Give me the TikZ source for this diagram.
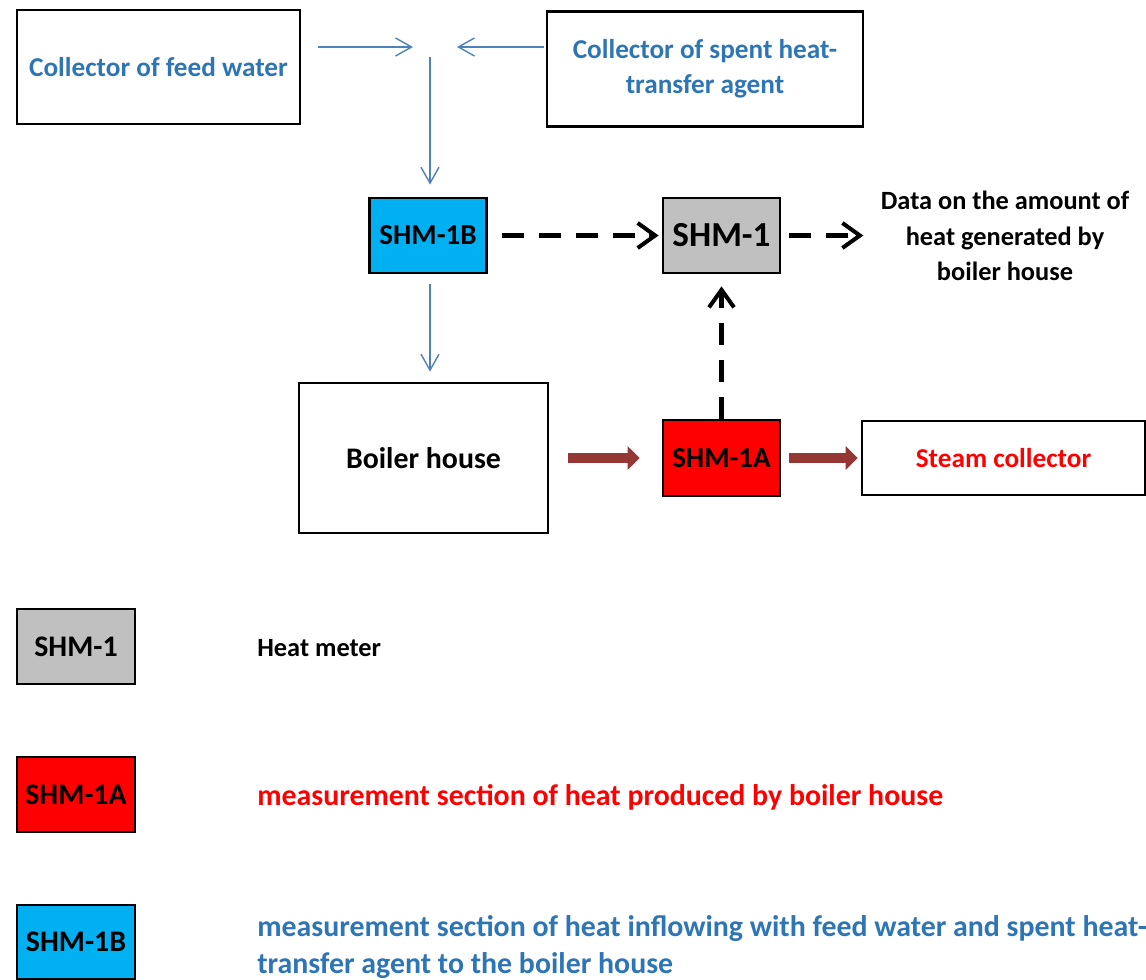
\documentclass[tikz,border=0pt]{standalone}
\usepackage{fontspec}
\setmainfont{Carlito}
\usetikzlibrary{arrows.meta}
\definecolor{pipeblue}{RGB}{79,129,189}
\definecolor{textblue}{RGB}{46,117,182}
\definecolor{steambrown}{RGB}{149,55,53}
\definecolor{meterblue}{RGB}{0,176,240}
\definecolor{metergray}{RGB}{192,192,192}

\begin{document}
\begin{tikzpicture}[x=0.02cm, y=-0.02cm, font=\bfseries\fontsize{15.5}{20}\selectfont,
box/.style={draw, line width=1.6pt, align=center, inner sep=0pt},
meter/.style={box, minimum width=2.34cm, minimum height=1.5cm, font=\bfseries\fontsize{16.5}{20}\selectfont},
water/.style={pipeblue, line width=0.8pt, -{Straight Barb[length=3.2mm, width=3.6mm]}},
signal/.style={line width=2.3pt, dash pattern=on 12.5pt off 8.5pt, -{Straight Barb[length=3.5mm, width=5mm]}},
steam/.style={steambrown, line width=2.1mm, -{Triangle[length=2.4mm, width=4.6mm]}},
keyfont/.style={font=\bfseries\fontsize{17}{21.5}\selectfont},
legend/.style={keyfont, anchor=west, align=left, inner sep=0pt}]

\useasboundingbox (0,0) rectangle (1146,980);

% collectors
\node[box, minimum width=5.66cm, minimum height=2.28cm, text=textblue] (feed) at (158.5,67) {Collector of feed water};
\node[box, minimum width=6.32cm, minimum height=2.3cm, text=textblue] (spent) at (705,69) {Collector of spent heat-\\transfer agent};
\coordinate (join) at (430,47);

% meters and boiler house
\node[meter, fill=meterblue] (shmb) at (428,235.5) {SHM-1B};
\node[meter, fill=metergray, font=\bfseries\fontsize{20}{22}\selectfont] (shm) at (721.5,235.5) {SHM-1};
\node[align=center, font=\bfseries\fontsize{15}{20.4}\selectfont] (data) at (1005,236) {Data on the amount of\\heat generated by\\boiler house};
\node[box, minimum width=4.98cm, minimum height=3cm, font=\bfseries\fontsize{17}{20}\selectfont] (boiler) at (423.5,458) {Boiler house};
\node[meter, fill=red, minimum height=1.52cm] (shma) at (721.5,458) {SHM-1A};
\node[box, minimum width=5.66cm, minimum height=1.48cm, text=red] (steamcol) at (1003.5,458) {Steam collector};

% feed water
\draw[water, shorten <=0.34cm] (feed.east |- join) -- ([xshift=-0.34cm]join);
\draw[water, shorten <=0.04cm] (spent.west |- join) -- ([xshift=0.54cm]join);
\draw[water, shorten <=0.2cm, shorten >=0.24cm] (join) -- (join |- shmb.north);
\draw[water, shorten <=0.2cm, shorten >=0.2cm] (join |- shmb.south) -- (join |- boiler.north);

% steam
\draw[steam, shorten <=0.38cm, shorten >=0.44cm] (boiler.east |- shma) -- (shma.west);
\draw[steam, shorten <=0.16cm, shorten >=0.06cm] (shma.east) -- (steamcol.west);

% data
\draw[signal, shorten <=0.28cm, shorten >=0.06cm] (shmb.east) -- (shm.west);
\draw[signal, shorten <=0.16cm] (shm.east) -- ([xshift=1.64cm]shm.east);
\draw[signal, shorten >=0.24cm] (shma.north) -- (shm.south);

% legend
\node[meter, fill=metergray, minimum width=2.36cm, keyfont] (keyone) at (76,646.5) {SHM-1};
\node[meter, fill=red, minimum width=2.36cm, keyfont] (keytwo) at (76,794.5) {SHM-1A};
\node[meter, fill=meterblue, minimum width=2.36cm, minimum height=1.48cm, keyfont] (keythree) at (76,942) {SHM-1B};
\node[legend, font=\bfseries\fontsize{15}{20}\selectfont] (textone) at (257,648) {Heat meter};
\node[legend, text=red] (texttwo) at (257,797) {measurement section of heat produced by boiler house};
\node[legend, text=textblue] (textthree) at (257,947) {measurement section of heat inflowing with feed water and spent heat-\\transfer agent to the boiler house};

\end{tikzpicture}
\end{document}
